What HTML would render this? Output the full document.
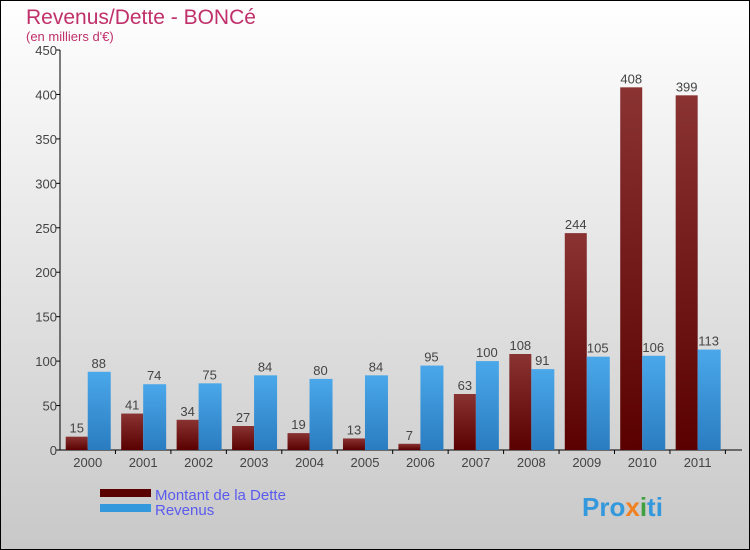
<!DOCTYPE html>
<html><head><meta charset="utf-8"><style>
body{margin:0}
#c{width:750px;height:550px;position:relative;overflow:hidden;font-family:"Liberation Sans","DejaVu Sans",sans-serif}
</style></head><body>
<div id="c">
<svg id="s" width="750" height="550" xmlns="http://www.w3.org/2000/svg">
<defs>
<linearGradient id="bg" x1="0" y1="0" x2="0" y2="1"><stop offset="0" stop-color="#ffffff"/><stop offset="1" stop-color="#c8c8c8"/></linearGradient>
<linearGradient id="gd" x1="0" y1="0" x2="0" y2="1"><stop offset="0" stop-color="#8a3333"/><stop offset="1" stop-color="#5a0000"/></linearGradient>
<linearGradient id="gr" x1="0" y1="0" x2="0" y2="1"><stop offset="0" stop-color="#4aa8ea"/><stop offset="1" stop-color="#2a7cc0"/></linearGradient>
</defs>
<rect x="0.5" y="0.5" width="749" height="549" fill="url(#bg)" stroke="#000"/>
<text x="26" y="24" font-size="21" fill="#c0306a">Revenus/Dette - BONCé</text>
<text x="26" y="41" font-size="13" fill="#c0306a">(en milliers d'€)</text>
<g id="axes"></g>
<g id="bars"></g>
<rect x="100" y="489" width="51" height="8" fill="#5a0000"/>
<text x="155" y="500" font-size="15" fill="#5a5aee">Montant de la Dette</text>
<rect x="100" y="504" width="51" height="8" fill="#3498dc"/>
<text x="155" y="515" font-size="15" fill="#5a5aee">Revenus</text>
<text x="582" y="516" font-size="26" font-weight="bold" fill="#3498dc">Pro<tspan fill="#f08020">x</tspan><tspan fill="#40a040">i</tspan>ti</text>
</svg>
</div>
<script>
const years=["2000","2001","2002","2003","2004","2005","2006","2007","2008","2009","2010","2011"];
const dette=[15,41,34,27,19,13,7,63,108,244,408,399];
const revenus=[88,74,75,84,80,84,95,100,91,105,106,113];
const yTicks=[0,50,100,150,200,250,300,350,400,450];
const NS="http://www.w3.org/2000/svg";
const x0=60,step=55.45,yB=450,yT=50,yMax=450;
function y(v){return yB-(v/yMax)*(yB-yT);}
function cx(i){return x0+step*i+step/2;}
function mk(t,a,p){const e=document.createElementNS(NS,t);for(const k in a)e.setAttribute(k,a[k]);p.appendChild(e);return e;}
const ax=document.getElementById('axes'),bs=document.getElementById('bars');
let l=mk('line',{x1:x0,y1:yT,x2:x0,y2:yB,stroke:'#000'},ax);


l=mk('line',{x1:x0,y1:yB,x2:742,y2:yB,stroke:'#000'},ax);


yTicks.forEach(v=>{
 mk('line',{x1:x0-4,y1:y(v),x2:x0,y2:y(v),stroke:'#000'},ax);
 const t=mk('text',{x:x0-3,y:y(v)+5,'font-size':13,fill:'#444','text-anchor':'end'},ax);
 t.textContent=v;
 
 
});
years.forEach((yr,i)=>{
 mk('line',{x1:x0+step*(i+1),y1:yB,x2:x0+step*(i+1),y2:yB+4,stroke:'#000'},ax);
 const t=mk('text',{x:cx(i),y:yB+17,'font-size':13,fill:'#444','text-anchor':'middle'},ax);
 t.textContent=yr;
 
 
 const w=22;
 let r=mk('rect',{x:cx(i)-w,y:y(dette[i]),width:w,height:yB-y(dette[i]),fill:'url(#gd)'},bs);
 
 
 let tv=mk('text',{x:cx(i)-w/2,y:y(dette[i])-4,'font-size':13,fill:'#444','text-anchor':'middle'},bs);
 tv.textContent=dette[i];
 
 
 r=mk('rect',{x:cx(i),y:y(revenus[i]),width:w+1,height:yB-y(revenus[i]),fill:'url(#gr)'},bs);
 
 
 tv=mk('text',{x:cx(i)+w/2,y:y(revenus[i])-4,'font-size':13,fill:'#444','text-anchor':'middle'},bs);
 tv.textContent=revenus[i];
 
 
});
</script>
</body></html>
